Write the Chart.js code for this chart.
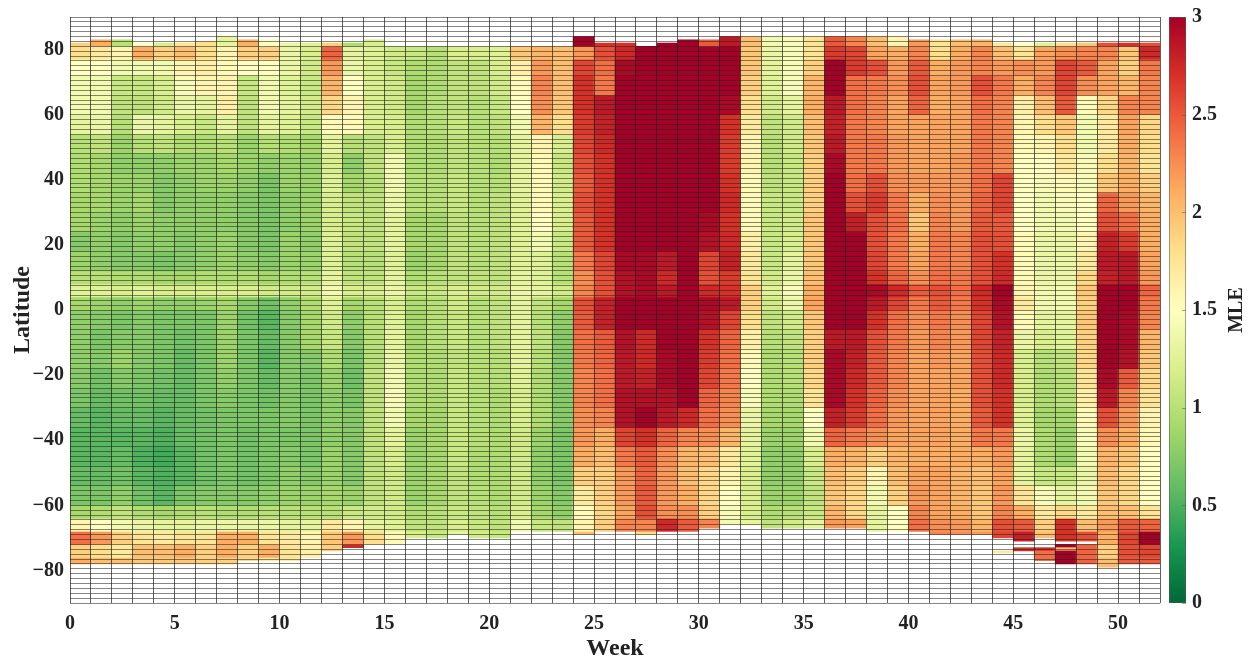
<!DOCTYPE html>
<html>
<head>
<meta charset="utf-8">
<title>MLE by week and latitude</title>
<script src="https://cdn.jsdelivr.net/npm/chart.js@4"></script>
<style>
  html, body { margin: 0; padding: 0; background: #fff; }
  canvas { display: block; }
</style>
</head>
<body>
<canvas id="mleChart" width="1252" height="659"></canvas>
<script>
// latitude band edges, north to south
var bandEdges = [85,81,77,72,66,60,54,48,42,36,30,24,18,12,8,4,0,-6,-12,-18,-24,-30,-36,-42,-48,-54,-60,-64,-68,-72,-76,-80];

// northern and southern limit of the coloured cells, week 1 to 52
var topLat = [82,83,83,82,82,82,82.5,84,83,83,82,82,82,82,83,81,81,81,81,81,81,81,81,81,84,82,82,81,82,83,83,84,84,84,84,84,84,84,84,84,83,83,83,83,82,82,82,82,82,82,82,82];
var bottomLat = [-78,-78,-78,-78,-78,-78,-78,-78,-77,-77,-77,-76,-74,-73,-72,-72,-70,-70,-69,-70,-70,-68,-68,-68,-69,-68,-68,-69,-68,-68,-67,-66,-66,-67,-67,-67,-67,-67,-68,-68,-68,-69,-69,-69,-70,-71,-70,-71,-71,-79,-78,-78];

// MLE per week, one value per latitude band
var mleByWeek = [
  [1.9,1.8,1.5,1.4,1.4,1.3,1.0,.95,.95,.9,.9,.75,.85,1.0,1.25,.9,.8,.8,.8,.75,.7,.6,.55,.55,.6,.7,.9,1.6,2.4,1.9,2.1],
  [2.1,1.7,1.5,1.4,1.4,1.35,1.05,.9,.9,.9,.85,.8,.8,1.0,1.25,.85,.75,.7,.75,.65,.6,.55,.55,.55,.6,.7,.95,1.5,2.2,1.8,2.0],
  [1.0,1.6,1.4,1.1,1.05,1.0,.85,.8,.85,.85,.8,.75,.75,.95,1.2,.8,.7,.75,.85,.75,.65,.6,.55,.6,.65,.8,1.05,1.4,1.9,1.7,2.0],
  [1.5,2.1,1.4,1.1,1.05,1.35,1.0,.8,.85,.9,.85,.8,.75,.95,1.25,.85,.75,.75,.75,.7,.65,.6,.55,.5,.55,.65,.95,1.35,1.75,2.0,1.95],
  [1.2,1.9,1.4,1.2,1.15,1.3,1.05,.8,.75,.75,.8,.8,.7,.9,1.2,.8,.7,.7,.7,.65,.6,.55,.5,.45,.5,.55,.9,1.3,1.7,2.0,1.95],
  [1.75,2.0,1.6,1.45,1.35,1.2,.95,.85,.8,.8,.8,.75,.75,.9,1.2,.8,.7,.65,.6,.6,.6,.6,.6,.55,.55,.7,.95,1.3,1.75,2.1,1.95],
  [1.8,1.8,1.65,1.6,1.3,1.1,.95,.85,.85,.8,.8,.8,.8,.95,1.2,.85,.7,.7,.7,.7,.7,.65,.65,.65,.65,.75,1.0,1.35,1.75,1.9,1.9],
  [1.3,1.6,1.55,1.6,1.65,1.3,1.0,.9,.85,.8,.8,.85,.85,.95,1.2,.9,.85,.85,.85,.8,.75,.7,.7,.7,.7,.75,.95,1.35,2.1,2.1,1.9],
  [2.1,1.9,1.5,1.1,1.05,1.05,.85,.85,.8,.75,.75,.75,.8,.95,1.2,.75,.65,.7,.7,.7,.7,.7,.65,.65,.65,.75,.95,1.35,2.1,1.9,1.85],
  [1.5,1.9,1.5,1.4,1.4,1.3,1.0,.8,.7,.7,.7,.7,.75,.9,1.15,.65,.55,.6,.55,.6,.65,.7,.7,.7,.7,.8,1.0,1.35,1.75,2.1,1.7],
  [1.35,1.35,1.35,1.25,1.3,1.25,.95,.85,.85,.8,.8,.85,.85,.95,1.15,.8,.75,.75,.75,.75,.75,.75,.7,.75,.8,.85,1.0,1.3,1.7,1.75,1.7],
  [1.25,1.2,1.15,1.1,1.15,1.1,.9,.85,.85,.85,.85,.8,.85,1.0,1.15,.95,.9,.9,.75,.7,.7,.7,.7,.7,.75,.85,1.0,1.3,1.6,1.65,1.6],
  [1.9,2.45,2.2,2.05,1.85,1.55,1.3,1.2,1.25,1.2,1.2,1.25,1.25,1.3,1.4,1.25,1.15,1.1,.95,.85,.8,.8,.8,.85,.85,.9,1.0,1.7,1.95,1.9],
  [.95,1.3,1.35,1.5,1.6,1.55,1.0,.8,.9,1.05,1.1,1.05,1.0,1.05,1.2,.9,.8,.75,.7,.65,.7,.75,.75,.75,.75,.85,1.1,1.6,2.2,2.75],
  [1.2,1.25,1.2,1.2,1.2,1.2,1.05,1.05,1.0,1.05,1.05,1.05,1.0,1.05,1.2,1.0,1.0,1.0,1.0,1.05,1.05,1.05,1.05,1.05,1.05,1.05,1.15,1.3,1.8],
  [1.3,1.15,1.1,1.15,1.15,1.2,1.2,1.4,1.4,1.35,1.3,1.3,1.25,1.3,1.35,1.2,1.25,1.3,1.35,1.4,1.45,1.4,1.3,1.2,1.15,1.15,1.15,1.25,1.55],
  [1.9,1.1,.95,.9,.9,.95,.95,.95,1.0,1.0,.9,.9,.85,.95,1.1,.95,.9,.9,.95,.95,.95,.9,.85,.85,.85,.85,.95,1.05,1.2],
  [1.5,1.0,.95,.95,1.0,1.0,.95,.95,1.0,1.0,.9,.9,.9,1.0,1.1,1.0,1.0,1.0,.95,.95,.95,.9,.9,.9,.9,.9,1.0,1.05,1.1],
  [1.8,1.2,1.05,1.05,1.05,1.1,1.05,1.05,1.1,1.1,1.05,1.05,1.05,1.05,1.2,1.15,1.1,1.1,1.05,1.1,1.1,1.1,1.1,1.1,1.05,1.05,1.1,1.2,1.3],
  [2.1,1.2,1.05,1.05,1.0,1.0,1.0,1.0,1.0,1.0,1.0,1.0,1.0,1.05,1.15,1.0,1.0,1.0,1.0,1.0,1.0,1.0,1.0,.95,.95,1.0,1.05,1.1,1.15],
  [1.75,1.25,1.2,1.15,1.1,1.05,1.0,.95,1.0,1.05,1.05,1.05,1.05,1.05,1.15,1.05,1.05,1.05,1.0,1.0,.95,.95,.95,.95,.95,.95,1.0,1.05,1.1],
  [2.1,1.95,1.65,1.55,1.5,1.4,1.3,1.3,1.3,1.25,1.25,1.25,1.25,1.3,1.35,1.3,1.3,1.3,1.3,1.25,1.2,1.2,1.15,1.15,1.15,1.15,1.2,1.4],
  [2.0,2.05,2.2,2.3,2.25,2.05,1.6,1.55,1.55,1.55,1.5,1.4,1.25,1.25,1.3,1.05,1.0,1.05,1.0,.95,.95,.95,.85,.8,.8,.85,.9,1.1],
  [2.0,2.0,2.0,2.0,1.95,1.8,1.2,1.1,1.15,1.2,1.2,1.1,1.0,1.0,1.15,.9,.8,.75,.75,.75,.75,.75,.7,.7,.7,.75,.8,1.05],
  [3,2.2,2.6,2.7,2.7,2.65,2.6,2.55,2.5,2.55,2.5,2.5,2.35,2.25,2.3,2.55,2.5,2.4,2.35,2.3,2.3,2.25,2.2,2.1,1.9,1.7,1.55,1.6,2.0],
  [2.7,2.55,2.4,2.35,2.85,2.8,2.75,2.7,2.7,2.7,2.7,2.7,2.6,2.55,2.55,2.8,2.8,2.5,2.45,2.4,2.4,2.3,2.1,2.0,1.9,1.9,1.85,1.9,2.4],
  [2.7,2.75,2.95,3,3,3,3,3,3,3,3,3,2.95,2.9,2.9,3,3,2.9,2.85,2.85,2.9,2.9,2.6,2.35,2.2,2.2,2.15,2.3,2.65],
  [2.95,3,3,3,3,3,3,3,3,3,3,3,2.95,2.95,2.95,3,3,2.75,2.75,2.8,2.9,3,2.7,2.5,2.45,2.5,2.55,2.3,1.8],
  [3,3,3,3,3,3,3,3,3,3,3,3,2.85,2.75,2.85,3,3,3,2.95,2.95,2.9,2.85,2.45,2.25,2.2,2.2,2.25,2.75,2.75],
  [3,3,3,3,3,3,3,3,3,3,3,3,3,3,3,3,3,3,3,3,3,2.75,2.3,2.05,2.0,2.1,2.25,2.5,2.5],
  [2.5,3,3,3,3,3,3,3,3,3,2.95,2.9,2.6,2.55,2.75,2.95,2.9,2.7,2.65,2.6,2.45,2.4,2.25,2.0,1.85,1.85,1.9,2.3],
  [2.85,3,3,3,2.95,2.7,2.65,2.65,2.7,2.75,2.7,2.75,2.8,2.65,2.7,2.85,2.6,2.45,2.4,2.35,2.3,2.25,2.05,1.7,1.6,1.5,1.45,1.4],
  [2.0,1.95,1.95,1.9,1.8,1.7,1.6,1.6,1.55,1.55,1.55,1.65,1.7,1.75,1.9,1.9,1.8,1.65,1.55,1.5,1.45,1.35,1.3,1.25,1.2,1.2,1.2,1.3],
  [1.4,1.35,1.3,1.25,1.15,1.05,1.0,1.0,1.05,1.1,1.1,1.1,1.1,1.15,1.25,1.15,1.05,1.0,.95,.95,.95,.9,.85,.8,.8,.85,.95,1.05],
  [1.45,1.45,1.45,1.45,1.3,1.15,1.15,1.1,1.1,1.1,1.15,1.2,1.3,1.35,1.45,1.35,1.15,1.05,1.0,1.0,.95,.9,.85,.8,.8,.85,1.0,1.15],
  [1.75,1.75,1.9,2.05,2.1,2.0,1.95,1.9,1.9,1.9,1.95,1.95,1.95,2.0,2.1,2.15,1.95,1.9,1.9,1.85,1.75,1.5,1.4,1.2,1.1,1.05,1.1,1.3],
  [2.5,2.65,3,3,2.85,2.8,2.85,2.95,3,3,3,3,3,3,3,3,3,2.85,2.95,2.95,2.95,2.8,2.45,2.1,2.0,1.95,2.05,2.2],
  [2.3,2.6,2.65,2.4,2.4,2.35,2.35,2.35,2.4,2.55,2.8,3,3,3,3,3,3,2.85,2.8,2.75,2.7,2.65,2.35,2.05,1.9,1.85,1.85,2.15],
  [2.0,2.15,2.55,2.35,2.3,2.3,2.35,2.35,2.55,2.65,2.55,2.55,2.6,2.7,2.95,2.85,2.7,2.55,2.5,2.5,2.45,2.4,2.25,1.9,1.6,1.4,1.3,1.3],
  [1.6,2.1,2.2,2.25,2.15,2.15,2.2,2.2,2.25,2.35,2.4,2.35,2.35,2.45,2.75,2.6,2.4,2.35,2.3,2.3,2.25,2.2,2.15,2.05,2.0,1.9,1.5,1.5],
  [2.2,2.3,2.5,2.55,2.45,2.15,2.15,2.15,2.2,2.1,1.95,2.1,2.15,2.25,2.5,2.35,2.25,2.2,2.15,2.15,2.15,2.15,2.15,2.1,2.15,2.2,2.3,2.4],
  [1.75,1.8,2.1,2.15,2.1,2.15,2.15,2.15,2.2,2.25,2.3,2.35,2.35,2.4,2.55,2.5,2.35,2.3,2.2,2.15,2.15,2.15,2.15,2.1,2.15,2.15,2.15,2.25,2.3],
  [2.0,2.1,2.2,2.2,2.15,2.15,2.15,2.2,2.2,2.2,2.2,2.3,2.3,2.35,2.4,2.35,2.25,2.2,2.15,2.15,2.1,2.1,2.1,2.1,2.05,2.05,2.1,2.2,2.25],
  [2.05,2.3,2.3,2.55,2.4,2.35,2.35,2.35,2.4,2.45,2.5,2.55,2.55,2.55,2.75,2.7,2.6,2.6,2.55,2.55,2.55,2.5,2.35,2.1,2.0,1.95,1.95,2.05,2.2],
  [1.7,2.0,2.2,2.35,2.3,2.3,2.3,2.3,2.6,2.6,2.5,2.55,2.7,2.75,3,2.95,2.9,2.8,2.75,2.75,2.7,2.7,2.35,2.2,2.15,2.2,2.3,2.55,2.6],
  [1.5,1.75,2.25,2.1,1.65,1.6,1.55,1.5,1.5,1.5,1.5,1.55,1.55,1.55,1.6,1.7,1.55,1.35,1.2,1.2,1.2,1.25,1.35,1.3,1.3,1.75,2.1,2.5,2.8],
  [1.25,2.15,2.2,2.3,2.0,1.8,1.6,1.5,1.45,1.4,1.4,1.35,1.35,1.35,1.4,1.4,1.3,1.2,1.0,.95,.95,.9,.95,.95,1.1,1.45,1.7,1.9,2.0],
  [1.8,2.25,2.6,2.6,2.5,1.95,1.8,1.7,1.55,1.45,1.4,1.35,1.35,1.35,1.4,1.4,1.3,1.25,1.05,1.0,1.0,.9,.85,.85,1.1,1.3,1.85,2.7,2.7],
  [1.95,2.3,2.5,2.25,1.55,1.4,1.4,1.45,1.45,1.5,1.5,1.6,1.7,1.85,1.95,1.9,1.95,1.9,1.85,1.75,1.65,1.55,1.45,1.4,1.35,1.4,1.7,2.0,2.55],
  [2.55,2.3,2.15,2.15,1.85,1.7,1.7,1.8,1.95,2.45,2.55,2.8,2.85,2.8,3,3,3,3,3,2.95,2.85,2.55,2.25,2.05,2.0,1.95,2.0,2.2,2.1,1.9,2.0],
  [2.7,1.95,1.9,2.05,2.3,2.15,2.1,2.05,2.1,2.2,2.4,2.65,2.85,2.85,3,3,2.95,2.95,2.9,2.5,2.3,2.2,2.1,1.95,1.85,1.85,2.0,2.5,2.6,2.55,2.5],
  [2.55,2.75,2.35,2.3,2.3,1.85,1.8,1.75,1.9,2.05,2.1,2.1,2.15,2.2,2.45,2.35,2.3,2.05,1.95,1.85,1.75,1.6,1.55,1.5,1.5,1.5,1.75,2.45,3,2.6,2.5]
];

// thin isolated strips that do not fill a whole band
var stripWeek   = [18,46,45,46,47,47,48,48,48,49];
var stripTop    = [81,80,-74,-73,-73,-74,-72,-73,-74,-72];
var stripBottom = [80,79,-74.6,-74,-74,-77,-73,-74,-78,-78];
var stripValue  = [2.75,2.45,1.7,2.7,2.75,2.4,3,2.0,3,2.45];

var weekLabels = [0,5,10,15,20,25,30,35,40,45,50];
var latLabels = [-80,-60,-40,-20,0,20,40,60,80];
var mleTicks = [0,0.5,1,1.5,2,2.5,3];

// reversed red-yellow-green colour map, evenly spaced from 0 to 3
var colourStops = ['#006837','#1a9850','#66bd63','#a6d96a','#d9ef8b','#ffffbf','#fee08b','#fdae61','#f46d43','#d73027','#a50026'];

var serif = '"Liberation Serif", "Times New Roman", serif';
var inkColor = '#222';
var weekLineColor = 'rgba(30,30,30,0.7)';
var rowLineColor = 'rgba(35,35,35,0.55)';

function mleColour(v) {
    var pos = Math.min(Math.max(v / 3, 0), 1) * (colourStops.length - 1);
    var i = Math.min(Math.floor(pos), colourStops.length - 2);
    var t = pos - i;
    var a = parseInt(colourStops[i].slice(1), 16);
    var b = parseInt(colourStops[i + 1].slice(1), 16);
    var r = (a >> 16) + ((b >> 16) - (a >> 16)) * t;
    var g = ((a >> 8) & 255) + (((b >> 8) & 255) - ((a >> 8) & 255)) * t;
    var bl = (a & 255) + ((b & 255) - (a & 255)) * t;
    return 'rgb(' + Math.round(r) + ',' + Math.round(g) + ',' + Math.round(bl) + ')';
}

// one floating-bar dataset per latitude band
var datasets = [];
for (var b = 0; b < bandEdges.length - 1; b++) {
    var cells = [], colours = [];
    for (var w = 0; w < mleByWeek.length; w++) {
        var v = mleByWeek[w][b];
        var hi = Math.min(bandEdges[b], topLat[w]);
        var lo = Math.max(bandEdges[b + 1], bottomLat[w]);
        if (v === undefined || hi <= lo) continue;
        cells.push({ x: w + 0.5, y: [lo, hi] });
        colours.push(mleColour(v));
    }
    datasets.push({ data: cells, backgroundColor: colours });
}
datasets.push({
    data: stripWeek.map(function (wk, i) { return { x: wk - 0.5, y: [stripBottom[i], stripTop[i]] }; }),
    backgroundColor: stripValue.map(mleColour)
});

// colour bar and its rotated title, placed from the MLE axis
var colourBar = {
    id: 'colourBar',
    afterDraw: function (chart) {
        var c = chart.ctx, s = chart.scales.yMle;
        var x0 = 1169, x1 = 1186;
        var y0 = s.getPixelForValue(3), y1 = s.getPixelForValue(0);
        var grad = c.createLinearGradient(0, y1, 0, y0);
        colourStops.forEach(function (col, i) { grad.addColorStop(i / (colourStops.length - 1), col); });
        c.save();
        c.fillStyle = grad;
        c.fillRect(x0, y0, x1 - x0, y1 - y0);
        c.strokeStyle = 'rgba(90,90,90,0.55)';
        c.lineWidth = 1;
        c.strokeRect(x0 + 0.5, y0 + 0.5, x1 - x0 - 1, y1 - y0 - 1);
        mleTicks.forEach(function (t) {
            var y = Math.round(s.getPixelForValue(t)) + 0.5;
            c.beginPath();
            c.moveTo(x1 - 4, y);
            c.lineTo(x1, y);
            c.stroke();
        });
        c.translate(1237, (y0 + y1) / 2);
        c.rotate(-Math.PI / 2);
        c.fillStyle = inkColor;
        c.font = 'bold 20px ' + serif;
        c.textAlign = 'center';
        c.textBaseline = 'middle';
        c.fillText('MLE', 0, 0);
        c.restore();
    }
};

var ctx = document.getElementById('mleChart').getContext('2d');
var mleChart = new Chart(ctx, {
    type: 'bar',
    data: { datasets: datasets },
    plugins: [colourBar],
    options: {
        responsive: false,
        animation: false,
        events: [],
        layout: { padding: { top: 17, left: 0, right: 0, bottom: 0 } },
        datasets: { bar: { grouped: false, barPercentage: 1, categoryPercentage: 1, borderWidth: 0 } },
        plugins: { legend: { display: false }, tooltip: { enabled: false } },
        scales: {
            x: {
                type: 'linear', min: 0, max: 52, offset: false,
                afterFit: function (s) { s.height = 56; },
                grid: { offset: false, color: weekLineColor, z: 1, drawTicks: false },
                border: { display: false },
                ticks: {
                    stepSize: 1, autoSkip: false, maxRotation: 0, padding: 9, color: inkColor,
                    font: { family: serif, size: 20, weight: 'bold' },
                    callback: function (v) { return weekLabels.indexOf(v) >= 0 ? String(v) : ''; }
                },
                title: {
                    display: true, text: 'Week', color: inkColor, padding: { top: 0, bottom: -4 },
                    font: { family: serif, size: 24, weight: 'bold' }
                }
            },
            y: {
                type: 'linear', position: 'left', min: -90, max: 90,
                afterFit: function (s) { s.width = 70; s.paddingTop = 0; s.paddingBottom = 0; },
                afterBuildTicks: function (s) { s.ticks = latLabels.map(function (v) { return { value: v }; }); },
                grid: { display: false, drawTicks: false },
                border: { display: false },
                ticks: {
                    autoSkip: false, padding: 6, color: inkColor,
                    font: { family: serif, size: 20, weight: 'bold' },
                    callback: function (v) { return v < 0 ? '\u2212' + Math.abs(v) : String(v); }
                },
                title: {
                    display: true, text: 'Latitude', color: inkColor, padding: { top: 8, bottom: 0 },
                    font: { family: serif, size: 24, weight: 'bold' }
                }
            },
            // carries only the 1.5 degree row lines
            yRows: {
                type: 'linear', position: 'left', min: -90, max: 90,
                afterFit: function (s) { s.width = 0; },
                grid: { color: rowLineColor, z: 1, drawTicks: false },
                border: { display: false },
                ticks: { display: false, stepSize: 1.5, autoSkip: false }
            },
            yMle: {
                type: 'linear', position: 'right', min: 0, max: 3,
                afterFit: function (s) { s.width = 92; s.paddingTop = 0; s.paddingBottom = 0; },
                afterBuildTicks: function (s) { s.ticks = mleTicks.map(function (v) { return { value: v }; }); },
                grid: { display: false, drawTicks: false },
                border: { display: false },
                ticks: {
                    autoSkip: false, padding: 32, color: inkColor,
                    font: { family: serif, size: 20, weight: 'bold' },
                    callback: function (v) { return String(v); }
                }
            }
        }
    }
});
</script>
</body>
</html>
